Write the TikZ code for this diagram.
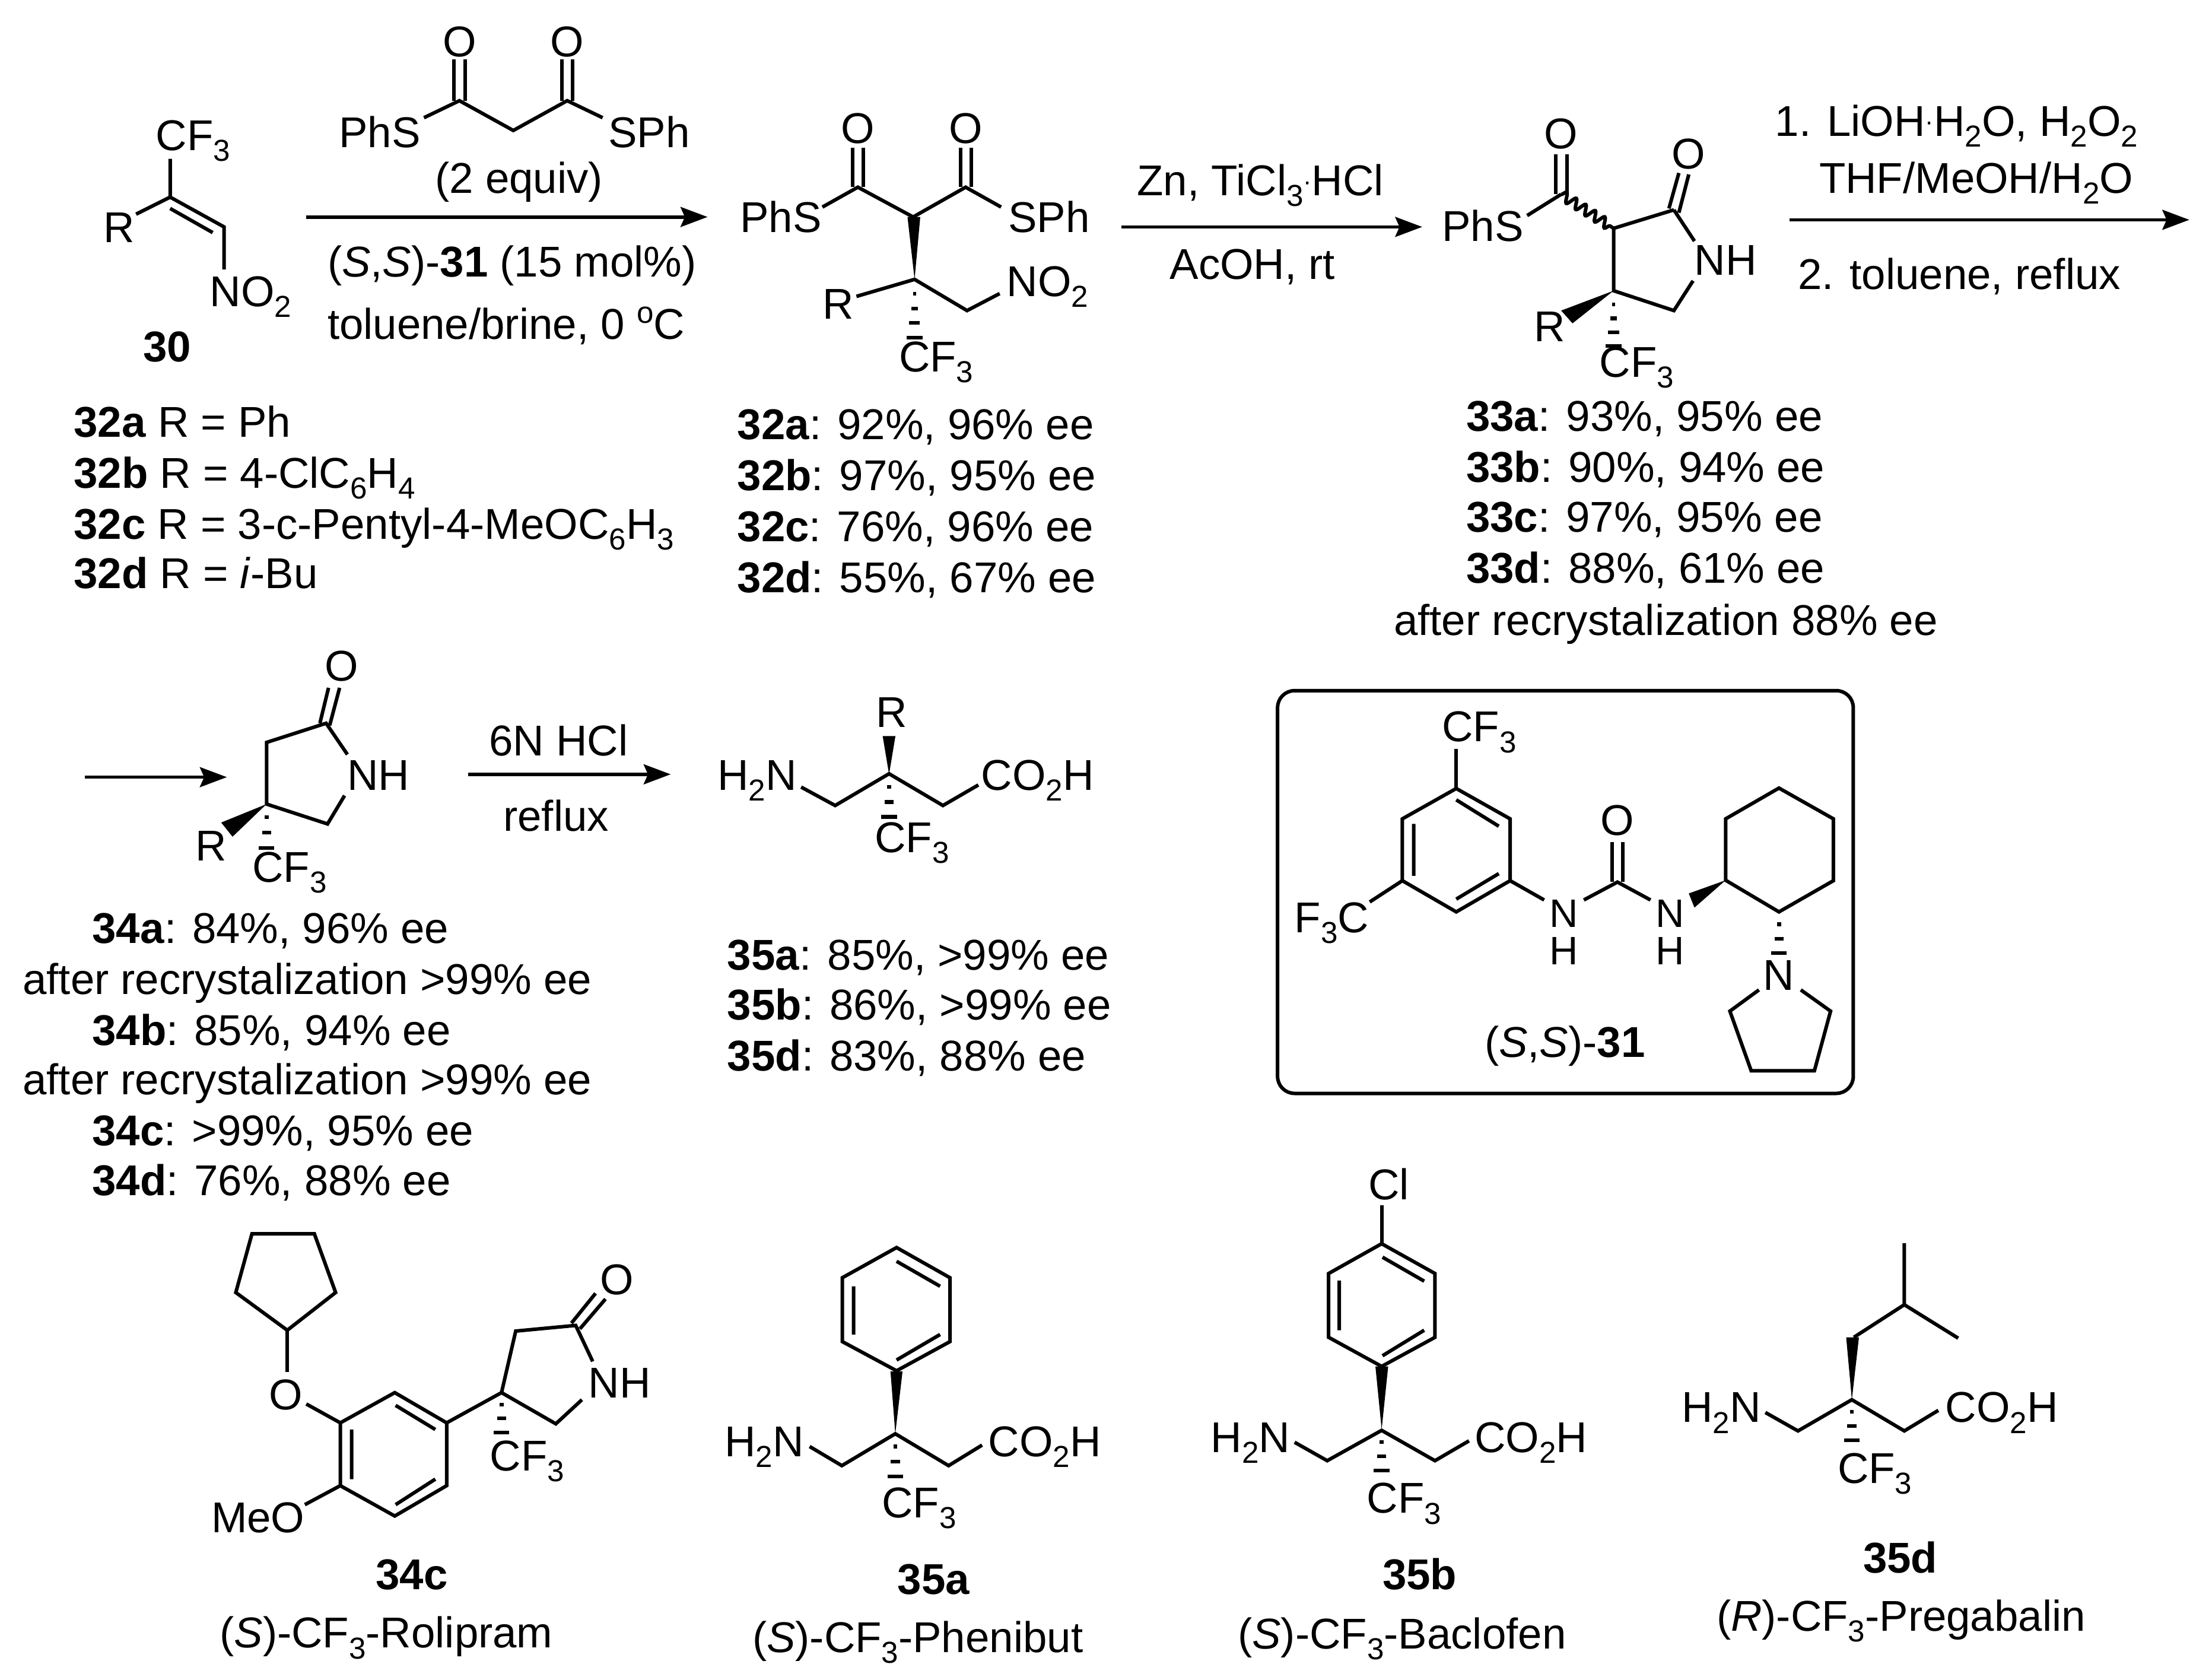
\documentclass[tikz,border=0pt]{standalone}
\usepackage{fontspec}
\setmainfont{Liberation Sans}
\usetikzlibrary{arrows.meta,decorations.pathmorphing}
\newcommand{\sbs}[1]{\raisebox{-3.8pt}{\fontsize{10.7pt}{12pt}\selectfont #1}}
\newcommand{\cdotdot}{\raisebox{2pt}{\fontsize{9pt}{9pt}\selectfont ·}}
\newcommand{\hashb}[3]{\foreach \tv/\wv in {.3/1.4,.65/3.2,1/5.5}{\fill ({#1-\wv},{#2+\tv*(#3-#2)-1.3}) rectangle ({#1+\wv},{#2+\tv*(#3-#2)+1.3});}}
\newcommand{\hashc}[3]{\foreach \tv/\wv in {.25/1.2,.5/2.4,.75/3.8,1/5.5}{\fill ({#1-\wv},{#2+\tv*(#3-#2)-1.3}) rectangle ({#1+\wv},{#2+\tv*(#3-#2)+1.3});}}
\tikzset{
  lbl/.style={anchor=base west,inner sep=0pt,outer sep=0pt,font=\fontsize{15.2pt}{18pt}\selectfont},
  ctr/.style={anchor=base,inner sep=0pt,outer sep=0pt,font=\fontsize{15.2pt}{18pt}\selectfont},
  bond/.style={line width=1.25pt,line join=miter,black},
  rxn/.style={line width=1.2pt,black,-{Stealth[length=9.5pt,width=7pt,inset=1.5pt]}},
  wavy/.style={line width=1.25pt,decorate,decoration={snake,segment length=4pt,amplitude=1.7pt}},
  panel/.style={line width=1.25pt,rounded corners=6pt}
}
\begin{document}
\begin{tikzpicture}[x=0.5pt,y=-0.5pt]
\useasboundingbox (0,0) rectangle (1560,1184.3);
\fill[white] (0,0) rectangle (1560,1184.3);

% --- compound 30
\draw[bond] (120,112) -- (120,139) -- (158,160) -- (158,190);
\draw[bond] (120,147) -- (150,164);
\draw[bond] (120,139) -- (96,151);
\node[lbl] (a30cf) at (110,106) {CF\sbs{3}};
\node[lbl] (a30r) at (73,171) {R};
\node[lbl] (a30no) at (148,216) {NO\sbs{2}};
\node[lbl] (n30) at (101,255) {\textbf{30}};
\node[lbl] (l32a) at (52,308) {\textbf{32a} R = Ph};
\node[lbl] (l32b) at (52,344) {\textbf{32b} R = 4-ClC\sbs{6}H\sbs{4}};
\node[lbl] (l32c) at (52,380) {\textbf{32c} R = 3-c-Pentyl-4-MeOC\sbs{6}H\sbs{3}};
\node[lbl] (l32d) at (52,415) {\textbf{32d} R = \textit{i}-Bu};

% --- malonate reagent
\draw[bond] (299,83) -- (324,71) -- (362,92) -- (400,71) -- (425,83);
\draw[bond] (320.3,42) -- (320.3,71) (328,42) -- (328,71);
\draw[bond] (396.3,42) -- (396.3,71) (404,42) -- (404,71);
\node[ctr] (r1o) at (324,40) {O};
\node[ctr] (r2o) at (400,40) {O};
\node[lbl] (rps) at (239,104) {PhS};
\node[lbl] (rsp) at (429,104) {SPh};
\node[ctr] (req) at (366,136) {(2 equiv)};
\coordinate (a1s) at (216,153);
\coordinate (a1e) at (499,153);
\draw[rxn] (a1s) -- (a1e);
\node[lbl] (rcat) at (231,195) {(\textit{S},\textit{S})-\textbf{31} (15 mol\%)};
\node[lbl] (rsol) at (231,239) {toluene/brine, 0 \raisebox{5.5pt}{\fontsize{10.7pt}{12pt}\selectfont o}C};

% --- compound 32
\draw[bond] (580,146) -- (605,132) -- (644,153) -- (681,132) -- (706,146);
\draw[bond] (601.3,104) -- (601.3,132) (609,104) -- (609,132);
\draw[bond] (677.3,104) -- (677.3,132) (685,104) -- (685,132);
\fill (640,153) -- (649,153) -- (645,197) -- cycle;
\draw[bond] (604,209) -- (645,197) -- (682,219) -- (705,207);
\hashc{645}{197}{238}
\node[ctr] (p1o) at (605,101) {O};
\node[ctr] (p2o) at (681,101) {O};
\node[lbl] (pps) at (522,164) {PhS};
\node[lbl] (psp) at (711,164) {SPh};
\node[lbl] (pr) at (580,225) {R};
\node[lbl] (pno) at (710,209) {NO\sbs{2}};
\node[lbl] (pcf) at (634,262) {CF\sbs{3}};
\node[lbl] (y32a) at (520,310) {\textbf{32a}: 92\%, 96\% ee};
\node[lbl] (y32b) at (520,346) {\textbf{32b}: 97\%, 95\% ee};
\node[lbl] (y32c) at (520,382) {\textbf{32c}: 76\%, 96\% ee};
\node[lbl] (y32d) at (520,418) {\textbf{32d}: 55\%, 67\% ee};

% --- arrow 2
\coordinate (a2s) at (791,160);
\coordinate (a2e) at (1003,160);
\draw[rxn] (a2s) -- (a2e);
\node[lbl] (zn) at (802,138) {Zn, TiCl\sbs{3}\cdotdot HCl};
\node[lbl] (aco) at (825,197) {AcOH, rt};

% --- compound 33
\draw[bond] (1077,152) -- (1101,137);
\draw[bond] (1097.3,109) -- (1097.3,137) (1105,109) -- (1105,137);
\draw[wavy] (1101,137) -- (1138,161);
\draw[bond] (1180.5,148) -- (1138,161) -- (1138,205) -- (1180.5,219) -- (1194,198);
\draw[bond] (1180.5,148) -- (1195,170);
\draw[bond] (1177,147) -- (1184,122) (1184,150) -- (1191,123);
\fill (1138,205) -- (1101,219) -- (1109,228) -- cycle;
\hashc{1138}{205}{244}
\node[ctr] (q1o) at (1101,105) {O};
\node[ctr] (q2o) at (1191,119) {O};
\node[lbl] (qps) at (1017,170) {PhS};
\node[lbl] (qnh) at (1195,194) {NH};
\node[lbl] (qr) at (1082,241) {R};
\node[lbl] (qcf) at (1128,266) {CF\sbs{3}};
\node[lbl] (y33a) at (1034,304) {\textbf{33a}: 93\%, 95\% ee};
\node[lbl] (y33b) at (1034,340) {\textbf{33b}: 90\%, 94\% ee};
\node[lbl] (y33c) at (1034,375) {\textbf{33c}: 97\%, 95\% ee};
\node[lbl] (y33d) at (1034,411) {\textbf{33d}: 88\%, 61\% ee};
\node[lbl] (y33e) at (983,448) {after recrystalization 88\% ee};

% --- arrow 3
\coordinate (a3s) at (1262,155);
\coordinate (a3e) at (1544,155);
\draw[rxn] (a3s) -- (a3e);
\node[lbl] (lio) at (1252,96) {1. LiOH\cdotdot H\sbs{2}O, H\sbs{2}O\sbs{2}};
\node[lbl] (thf) at (1283,136) {THF/MeOH/H\sbs{2}O};
\node[lbl] (tol) at (1268,204) {2. toluene, reflux};

% --- arrow 4 and compound 34
\coordinate (a4s) at (60,548);
\coordinate (a4e) at (160,548);
\draw[rxn] (a4s) -- (a4e);
\draw[bond] (245,532) -- (230,510) -- (188,523.5) -- (188,567) -- (231,581) -- (243,561);
\draw[bond] (225.6,510) -- (231.7,485) (232.5,511.5) -- (239.5,485);
\fill (188,567) -- (156,580) -- (164,590) -- cycle;
\hashb{188}{567}{598}
\node[ctr] (s1o) at (241,480) {O};
\node[lbl] (snh) at (245,557) {NH};
\node[lbl] (sr) at (138,607) {R};
\node[lbl] (scf) at (178,622) {CF\sbs{3}};
\node[lbl] (y34a) at (65,665) {\textbf{34a}: 84\%, 96\% ee};
\node[lbl] (y34e) at (16,701) {after recrystalization >99\% ee};
\node[lbl] (y34b) at (65,737) {\textbf{34b}: 85\%, 94\% ee};
\node[lbl] (y34f) at (16,772) {after recrystalization >99\% ee};
\node[lbl] (y34c) at (65,808) {\textbf{34c}: >99\%, 95\% ee};
\node[lbl] (y34d) at (65,843) {\textbf{34d}: 76\%, 88\% ee};

% --- arrow 5 and compound 35
\coordinate (a5s) at (330,546);
\coordinate (a5e) at (473,546);
\draw[rxn] (a5s) -- (a5e);
\node[lbl] (hcl) at (345,533) {6N HCl};
\node[lbl] (ref) at (355,586) {reflux};
\draw[bond] (565,555) -- (589,568) -- (627,545.6) -- (665,568) -- (690,553.5);
\fill (622.5,519) -- (631.5,519) -- (627,546) -- cycle;
\hashb{627}{546}{576}
\node[lbl] (tr) at (618,513) {R};
\node[lbl] (th) at (506,557) {H\sbs{2}N};
\node[lbl] (tc) at (692,557) {CO\sbs{2}H};
\node[lbl] (tf) at (617,601) {CF\sbs{3}};
\node[lbl] (y35a) at (513,684) {\textbf{35a}: 85\%, >99\% ee};
\node[lbl] (y35b) at (513,719) {\textbf{35b}: 86\%, >99\% ee};
\node[lbl] (y35d) at (513,755) {\textbf{35d}: 83\%, 88\% ee};

% --- catalyst box
\draw[panel] (901,487) rectangle (1307,771);
\draw[bond] (1027,528) -- (1027,556);
\draw[bond] (1027,556) -- (1065,577.4) -- (1065,621) -- (1027,643) -- (989,621) -- (989,577.4) -- cycle;
\draw[bond] (1027,564) -- (1057,582.6) (1057,616) -- (1027,634) (997,581) -- (997,617.6);
\draw[bond] (989,621) -- (966,636);
\draw[bond] (1065,621) -- (1089,634.6);
\draw[bond] (1117,634.6) -- (1140.7,622) -- (1164,634.6);
\draw[bond] (1137,593.6) -- (1137,622) (1144.5,593.6) -- (1144.5,622);
\draw[bond] (1217,620.7) -- (1217,577.4) -- (1254.6,555.7) -- (1293,577.4) -- (1293,621) -- (1254.6,643) -- cycle;
\fill (1217,620.7) -- (1191,630) -- (1195,640) -- cycle;
\hashb{1254.6}{643}{672}
\draw[bond] (1240.5,698) -- (1220,713) -- (1235,755) -- (1279.6,755) -- (1291,713) -- (1270,698);
\node[lbl] (ccf) at (1017,523) {CF\sbs{3}};
\node[lbl] (cfc) at (913,657.5) {F\sbs{3}C};
\node[ctr] (co) at (1140.7,589) {O};
\node[ctr,font=\fontsize{14pt}{14pt}\selectfont] (cn1) at (1103,654) {N};
\node[ctr,font=\fontsize{14pt}{14pt}\selectfont] (ch1) at (1103,680) {H};
\node[ctr,font=\fontsize{14pt}{14pt}\selectfont] (cn2) at (1178,654) {N};
\node[ctr,font=\fontsize{14pt}{14pt}\selectfont] (ch2) at (1178,680) {H};
\node[ctr] (cn3) at (1254.6,698) {N};
\node[lbl] (cname) at (1047,745.6) {(\textit{S},\textit{S})-\textbf{31}};

% --- rolipram
\draw[bond] (177.7,870) -- (221.7,870) -- (236.7,911.4) -- (202.6,938) -- (166.3,911.4) -- cycle;
\draw[bond] (202.6,938) -- (202.6,967.5);
\draw[bond] (216,990) -- (240,1003.3);
\draw[bond] (278.4,982) -- (315,1003.3) -- (315,1047.6) -- (278.4,1069) -- (240,1047.6) -- (240,1003.3) -- cycle;
\draw[bond] (279,991) -- (307,1008) (307,1043) -- (279,1061) (248,1008) -- (248,1043);
\draw[bond] (240,1047.6) -- (215,1061);
\draw[bond] (315,1003.3) -- (353.7,982) -- (363.7,938.6) -- (406,934.6) -- (418,960);
\draw[bond] (353.7,982) -- (392,1004) -- (410.4,987);
\draw[bond] (403,933) -- (420,912) (409,937) -- (427,916);
\hashb{353.7}{982}{1010}
\node[ctr] (ro1) at (201.7,994) {O};
\node[ctr] (ro2) at (435,913) {O};
\node[lbl] (rmo) at (149,1080.5) {MeO};
\node[lbl] (rnh) at (415,985.6) {NH};
\node[lbl] (rcf) at (345.5,1037) {CF\sbs{3}};
\node[lbl] (rn) at (265,1121) {\textbf{34c}};
\node[lbl] (rname) at (155,1162) {(\textit{S})-CF\sbs{3}-Rolipram};

% --- phenibut
\draw[bond] (632.3,879.7) -- (670,901) -- (670,946) -- (632.3,966.6) -- (594,946) -- (594,901) -- cycle;
\draw[bond] (632.3,889.4) -- (663,907) (663,941) -- (632.3,959) (602,907) -- (602,941);
\fill (628,967) -- (636.5,967) -- (631.4,1011) -- cycle;
\draw[bond] (571,1020) -- (593.7,1033.5) -- (631.4,1011) -- (669,1033.5) -- (692.6,1019);
\hashb{631.4}{1011}{1041}
\node[lbl] (ph) at (511,1027) {H\sbs{2}N};
\node[lbl] (pc) at (697,1027) {CO\sbs{2}H};
\node[lbl] (pf) at (622,1070) {CF\sbs{3}};
\node[lbl] (pn) at (633,1124) {\textbf{35a}};
\node[lbl] (pname) at (530.6,1165) {(\textit{S})-CF\sbs{3}-Phenibut};

% --- baclofen
\draw[bond] (974.4,850) -- (974.4,877);
\draw[bond] (974.4,877) -- (1012,898) -- (1012,943) -- (974.4,963.5) -- (937,943) -- (937,898) -- cycle;
\draw[bond] (975,886.5) -- (1004.4,903.4) (1004.4,938) -- (975,956) (944.5,903) -- (944.5,938);
\fill (970,963.5) -- (979,963.5) -- (974.4,1008) -- cycle;
\draw[bond] (913,1017) -- (936,1030) -- (974.4,1008.6) -- (1012,1030) -- (1036,1016);
\hashb{974.4}{1008}{1037}
\node[lbl] (bcl) at (965,846) {Cl};
\node[lbl] (bh) at (854,1024) {H\sbs{2}N};
\node[lbl] (bc) at (1040,1024) {CO\sbs{2}H};
\node[lbl] (bf) at (964,1067) {CF\sbs{3}};
\node[lbl] (bn) at (975,1121) {\textbf{35b}};
\node[lbl] (bname) at (873,1162.5) {(\textit{S})-CF\sbs{3}-Baclofen};

% --- pregabalin
\draw[bond] (1343,876.6) -- (1343,920) -- (1381,943.6);
\draw[bond] (1343,920) -- (1307.4,943);
\fill (1302,943) -- (1311,943) -- (1306,987) -- cycle;
\draw[bond] (1245,996) -- (1268,1009) -- (1306,987) -- (1343,1009) -- (1367,994.5);
\hashb{1306}{987}{1015.7}
\node[lbl] (gh) at (1186,1003) {H\sbs{2}N};
\node[lbl] (gc) at (1372,1003) {CO\sbs{2}H};
\node[lbl] (gf) at (1296,1046) {CF\sbs{3}};
\node[lbl] (gn) at (1314,1109) {\textbf{35d}};
\node[lbl] (gname) at (1210.6,1150) {(\textit{R})-CF\sbs{3}-Pregabalin};
\end{tikzpicture}
\end{document}
